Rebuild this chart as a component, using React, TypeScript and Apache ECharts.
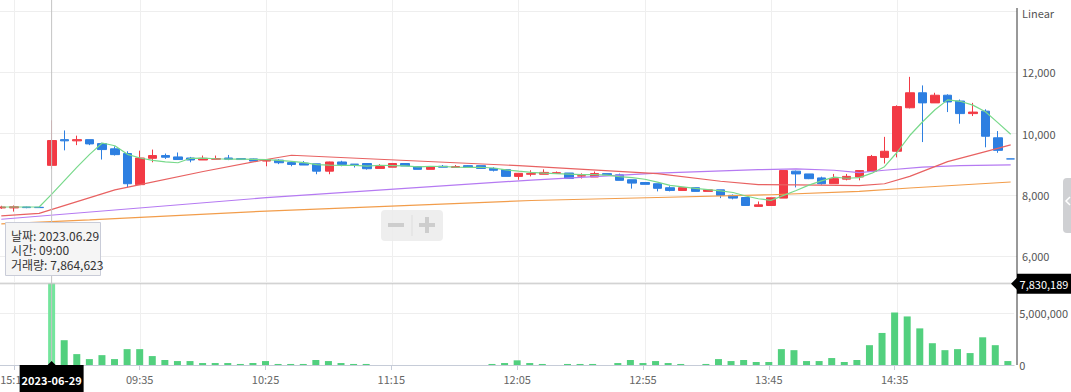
import React, { useEffect, useRef } from 'react';
import * as echarts from 'echarts';

const FONT = '"Noto Sans CJK KR", "Noto Sans", sans-serif';

const times = [
  '15:10', '15:15', '15:20', '15:30',
  '09:00', '09:05', '09:10', '09:15', '09:20', '09:25', '09:30', '09:35', '09:40', '09:45', '09:50', '09:55',
  '10:00', '10:05', '10:10', '10:15', '10:20', '10:25', '10:30', '10:35', '10:40', '10:45', '10:50', '10:55',
  '11:00', '11:05', '11:10', '11:15', '11:20', '11:25', '11:30', '11:35', '11:40', '11:45', '11:50', '11:55',
  '12:00', '12:05', '12:10', '12:15', '12:20', '12:25', '12:30', '12:35', '12:40', '12:45', '12:50', '12:55',
  '13:00', '13:05', '13:10', '13:15', '13:20', '13:25', '13:30', '13:35', '13:40', '13:45', '13:50', '13:55',
  '14:00', '14:05', '14:10', '14:15', '14:20', '14:25', '14:30', '14:35', '14:40', '14:45', '14:50', '14:55',
  '15:00', '15:05', '15:10', '15:15', '15:20',
];

// [open, close, low, high]
const candles = [
  [7570, 7600, 7540, 7640], [7570, 7610, 7450, 7650], [7600, 7580, 7560, 7610], [7590, 7580, 7570, 7600],
  [8960, 9770, 8850, 10430], [9800, 9760, 9450, 10100], [9760, 9800, 9620, 9930], [9800, 9660, 9620, 9800],
  [9670, 9475, 9150, 9700], [9500, 9310, 9280, 9580], [9345, 8360, 8240, 9420], [8330, 9200, 8330, 9440],
  [9190, 9280, 9060, 9475], [9280, 9225, 9170, 9345], [9235, 9150, 9150, 9380], [9200, 9135, 9060, 9235],
  [9135, 9190, 9135, 9280], [9160, 9180, 9160, 9280], [9200, 9160, 9130, 9300], [9180, 9150, 9150, 9190],
  [9170, 9100, 9100, 9180], [9100, 9150, 8930, 9160], [9130, 9045, 9000, 9160], [9050, 8990, 8930, 9080],
  [9030, 8970, 8970, 9100], [9010, 8770, 8670, 9010], [8770, 9070, 8670, 9080], [9070, 8990, 8930, 9110],
  [9000, 8990, 8890, 9000], [9020, 8850, 8820, 9020], [8860, 8920, 8860, 9000], [8900, 9020, 8900, 9020],
  [9020, 8940, 8940, 9020], [8920, 8830, 8830, 8920], [8830, 8920, 8830, 8920], [8930, 8900, 8900, 8970],
  [8890, 8920, 8890, 8970], [8950, 8890, 8890, 8960], [8950, 8860, 8860, 8950], [8860, 8800, 8760, 8900],
  [8820, 8600, 8600, 8820], [8600, 8700, 8490, 8700], [8670, 8690, 8600, 8800], [8670, 8730, 8670, 8830],
  [8700, 8720, 8700, 8760], [8710, 8530, 8530, 8710], [8610, 8620, 8530, 8700], [8580, 8690, 8580, 8760],
  [8690, 8650, 8650, 8690], [8650, 8470, 8470, 8690], [8490, 8380, 8200, 8490], [8400, 8340, 8340, 8400],
  [8360, 8210, 8110, 8360], [8230, 8140, 8110, 8280], [8140, 8230, 8140, 8230], [8230, 8110, 8110, 8230],
  [8110, 8160, 8110, 8160], [8160, 7980, 7890, 8160], [7980, 7890, 7850, 8010], [7910, 7650, 7640, 7920],
  [7620, 7670, 7610, 7780], [7650, 7900, 7640, 7910], [7890, 8790, 7890, 8800], [8770, 8680, 8240, 8790],
  [8680, 8525, 8510, 8680], [8550, 8360, 8330, 8590], [8360, 8525, 8360, 8680], [8510, 8600, 8470, 8680],
  [8580, 8790, 8470, 8790], [8760, 9250, 8760, 9300], [9220, 9420, 9020, 9890], [9420, 10880, 9220, 10920],
  [10840, 11330, 10820, 11850], [11330, 11000, 9720, 11570], [11000, 11250, 11000, 11330], [11250, 11030, 10700, 11280],
  [11060, 10650, 10320, 11110], [10650, 10700, 10570, 11000], [10730, 9910, 9550, 10790], [9860, 9450, 9370, 10080],
  [9170, 9170, 9170, 9170],
];

const ma5 = [
  7600, 7600, 7600, 7600,
  8020, 8460, 8900, 9320, 9690, 9600, 9320, 9200, 9125, 9075, 9045,
  9190, 9196, 9176, 9163, 9163, 9156, 9148, 9121, 9087, 9051,
  8985, 8969, 8958, 8958, 8934, 8964, 8954, 8944, 8912, 8926,
  8922, 8902, 8892, 8898, 8874, 8814, 8770, 8730, 8704, 8688,
  8674, 8658, 8658, 8642, 8592, 8562, 8506, 8410, 8308, 8260,
  8206, 8170, 8124, 8074, 7958, 7870, 7818, 7980, 8138, 8313,
  8451, 8576, 8538, 8560, 8705, 8917, 9388, 9934, 10376, 10776,
  11098, 11052, 10926, 10708, 10348, 9976,
];

// [category index, value] points
const ma20 = [[0, 7310], [3, 7390], [9, 8160], [11, 8330], [16, 8760], [21, 9150], [23, 9290], [41, 8950], [52, 8690], [57, 8440], [60, 8330], [63, 8320], [68, 8295], [70, 8360], [72, 8600], [75, 9080], [78, 9410], [80, 9630]];
const ma60 = [[0, 7200], [21, 7905], [42, 8480], [52, 8705], [60, 8820], [63, 8843], [66, 8800], [68, 8725], [70, 8800], [73, 8902], [76, 8951], [80, 8974]];
const ma120 = [[0, 7050], [7, 7180], [21, 7466], [42, 7813], [52, 7911], [61, 8000], [68, 8108], [72, 8220], [80, 8416]];

const volumes = [
  null, null, null, null,
  7864623, 2390000, 1050000, 570000, 950000, 570000, 1530000, 1530000, 860000, 480000, 380000, 380000,
  190000, 190000, 190000, 100000, 190000, 380000, 100000, 100000, 100000, 480000, 380000, 190000, 100000, 100000,
  null, null, null, null, null, null, null, null, null,
  100000, 190000, 450000, 190000, 100000, null, 100000, 100000, 100000, null,
  190000, 480000, 190000, 380000, 190000, 100000, null, 100000, 570000, 380000,
  480000, 290000, 290000, 1530000, 1430000, 380000, 380000, 670000, 290000, 480000,
  1910000, 3090000, 5060000, 4680000, 3530000, 2100000, 1430000, 1530000, 1150000, 2670000, 1910000, 380000,
];

const priceTicks = { min: 6000, max: 14000, interval: 2000 };
const volumeTicks = { min: 0, max: 8000000, interval: 5000000 };

const hoverIndex = 4;
const hoverDate = '2023-06-29';
const hoverVolumeCursor = 7830189;
const tooltipLines = ['날짜: 2023.06.29', '시간: 09:00', '거래량: 7,864,623'];

const RED = '#f23a45';
const BLUE = '#2d7fe1';
const VOL = '#52d07e';
const VOL_HI = '#74e59c';

const labelEvery = (i: number) => i % 10 === 1;
const fmt = (v: number) => v.toLocaleString('en-US');

// the chart canvas starts slightly left of the page so the first band is cut off
const OX = 5;

export default function App() {
  const ref = useRef<HTMLDivElement>(null);
  useEffect(() => {
    document.body.style.margin = '0';
    const chart = echarts.init(ref.current!, null, { renderer: 'svg' });
    const option: any = {
      animation: false,
      textStyle: { fontFamily: FONT },
      grid: [
        { left: 0, right: 54, top: 11, height: 245 },
        { left: 0, right: 54, top: 282, height: 83 },
        { left: 6.31, right: 60.31, top: 0, height: 365 },
      ],
      xAxis: [
        {
          type: 'category', gridIndex: 0, data: times, boundaryGap: true,
          axisLine: { show: false }, axisTick: { show: false }, axisLabel: { show: false }, splitLine: { show: false },
        },
        {
          type: 'category', gridIndex: 1, data: times, boundaryGap: true,
          axisLine: { show: true, lineStyle: { color: '#c6ccd8' } },
          axisTick: { show: true, interval: labelEvery, alignWithLabel: true, length: 5, lineStyle: { color: '#c6ccd8' } },
          axisLabel: { interval: labelEvery, color: '#666', fontSize: 11, margin: 8, fontFamily: FONT },
          splitLine: { show: false },
        },
        {
          type: 'category', gridIndex: 2, data: times, boundaryGap: false,
          axisLine: { show: false }, axisTick: { show: false }, axisLabel: { show: false },
          splitLine: { show: true, interval: labelEvery, lineStyle: { color: '#efefef' } },
        },
      ],
      yAxis: [
        {
          type: 'value', gridIndex: 0, position: 'right', ...priceTicks,
          axisLine: { show: false }, axisTick: { show: false },
          axisLabel: { color: '#555', fontSize: 11, margin: 5, formatter: fmt, showMaxLabel: false, fontFamily: FONT },
          splitLine: { show: true, lineStyle: { color: '#eeeeee' } },
        },
        {
          type: 'value', gridIndex: 1, position: 'right', ...volumeTicks,
          axisLine: { show: false }, axisTick: { show: false },
          axisLabel: { color: '#555', fontSize: 11, margin: 5, formatter: fmt, showMaxLabel: false, fontFamily: FONT },
          splitLine: { show: true, lineStyle: { color: '#eeeeee' } },
        },
        { type: 'value', gridIndex: 2, show: false, min: 0, max: 1 },
      ],
      series: [
        {
          type: 'candlestick', xAxisIndex: 0, yAxisIndex: 0, data: candles, barWidth: 9,
          itemStyle: { color: RED, color0: BLUE, borderColor: RED, borderColor0: BLUE, borderWidth: 1 },
        },
        { type: 'line', xAxisIndex: 0, yAxisIndex: 0, data: ma120, symbol: 'none', lineStyle: { color: '#f29d4b', width: 1.2 }, z: 3 },
        { type: 'line', xAxisIndex: 0, yAxisIndex: 0, data: ma60, symbol: 'none', lineStyle: { color: '#b57af2', width: 1.2 }, z: 3 },
        { type: 'line', xAxisIndex: 0, yAxisIndex: 0, data: ma20, symbol: 'none', lineStyle: { color: '#e86262', width: 1.2 }, z: 3 },
        { type: 'line', xAxisIndex: 0, yAxisIndex: 0, data: ma5, symbol: 'none', lineStyle: { color: '#78d98b', width: 1.2 }, z: 3 },
        {
          type: 'bar', xAxisIndex: 1, yAxisIndex: 1, barWidth: 7,
          data: volumes.map((v, i) => (v == null ? null : { value: v, itemStyle: { color: i === hoverIndex ? VOL_HI : VOL } })),
        },
      ],
    };
    chart.setOption(option);

    const px = chart.convertToPixel({ xAxisIndex: 1 }, hoverIndex) as number;
    const py = chart.convertToPixel({ yAxisIndex: 1 }, hoverVolumeCursor) as number;
    const W = chart.getWidth();
    const axisX = W - 54;
    const bottomY = chart.convertToPixel({ yAxisIndex: 1 }, 0) as number;

    chart.setOption({
      graphic: [
        { type: 'line', z: 50, shape: { x1: axisX, y1: 8, x2: axisX, y2: bottomY }, style: { stroke: '#333', lineWidth: 1 } },
        { type: 'line', z: 40, shape: { x1: px, y1: 0, x2: px, y2: bottomY }, style: { stroke: '#c4c4c4', lineWidth: 1 } },
        { type: 'line', z: 40, shape: { x1: 0, y1: py, x2: axisX, y2: py }, style: { stroke: '#c4c4c4', lineWidth: 1 } },
        { type: 'text', z: 50, style: { text: 'Linear', x: axisX + 5, y: 13, fill: '#555', font: `11px ${FONT}`, textVerticalAlign: 'middle', verticalAlign: 'middle' } },
        // zoom control
        { type: 'rect', z: 50, shape: { x: OX + 381, y: 210, width: 62, height: 31, r: 4 }, style: { fill: 'rgba(235,235,235,0.85)' } },
        { type: 'rect', z: 51, shape: { x: OX + 388, y: 223, width: 16, height: 4 }, style: { fill: '#cdcdcd' } },
        { type: 'rect', z: 51, shape: { x: OX + 419, y: 223, width: 16, height: 4 }, style: { fill: '#cdcdcd' } },
        { type: 'rect', z: 51, shape: { x: OX + 425, y: 217, width: 4, height: 16 }, style: { fill: '#cdcdcd' } },
        { type: 'line', z: 51, shape: { x1: OX + 412, y1: 215, x2: OX + 412, y2: 236 }, style: { stroke: '#dedede', lineWidth: 1 } },
        // right tab
        { type: 'rect', z: 50, shape: { x: OX + 1063, y: 178, width: 14, height: 55, r: 4 }, style: { fill: '#cfd0d3' } },
        { type: 'polyline', z: 51, shape: { points: [[OX + 1070, 197], [OX + 1066, 201], [OX + 1070, 205]] }, style: { stroke: '#fff', lineWidth: 1.5, fill: null } },
        // tooltip
        { type: 'rect', z: 60, shape: { x: OX + 5.5, y: 222.5, width: 95, height: 53 }, style: { fill: '#f5f5f5', stroke: '#c9ccd8', lineWidth: 1 } },
        {
          type: 'text', z: 61,
          style: { text: tooltipLines.join('\n'), x: OX + 11, y: 228, fill: '#333', font: `12px ${FONT}`, lineHeight: 14.5, textVerticalAlign: 'top', verticalAlign: 'top' },
        },
        // x crosshair label
        { type: 'polygon', z: 60, shape: { points: [[px - 5, bottomY + 1], [px, bottomY - 4], [px + 5, bottomY + 1]] }, style: { fill: '#000' } },
        { type: 'rect', z: 60, shape: { x: px - 32, y: bottomY, width: 64, height: 30 }, style: { fill: '#000' } },
        { type: 'text', z: 61, style: { text: hoverDate, x: px, y: bottomY + 15, fill: '#fff', font: `bold 11px ${FONT}`, textAlign: 'center', align: 'center', textVerticalAlign: 'middle', verticalAlign: 'middle' } },
        // y crosshair label
        { type: 'polygon', z: 60, shape: { points: [[axisX - 6, py], [axisX + 1, py - 7], [axisX + 1, py + 7]] }, style: { fill: '#000' } },
        { type: 'rect', z: 60, shape: { x: axisX, y: py - 10, width: W - axisX, height: 20 }, style: { fill: '#000' } },
        { type: 'text', z: 61, style: { text: fmt(hoverVolumeCursor), x: axisX + 27, y: py, fill: '#fff', font: `11px ${FONT}`, textAlign: 'center', align: 'center', textVerticalAlign: 'middle', verticalAlign: 'middle' } },
      ],
    });
    return () => chart.dispose();
  }, []);
  return <div ref={ref} style={{ position: 'absolute', left: -OX, top: 0, width: 1071 + OX, height: 392 }} />;
}
